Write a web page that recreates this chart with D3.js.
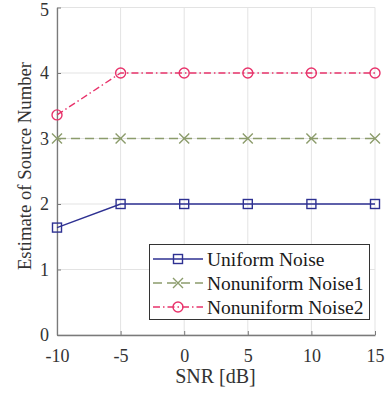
<!DOCTYPE html>
<html>
<head>
<meta charset="utf-8">
<script src="https://cdn.jsdelivr.net/npm/d3@7"></script>
<style>
  body { margin: 0; background: #fff; }
  svg { display: block; font-family: "Liberation Serif", "Times New Roman", serif; }
</style>
</head>
<body>
<svg id="chart" width="385" height="395"></svg>
<script>
// data
const snr = [-10, -5, 0, 5, 10, 15];
const uniformNoise = [1.64, 2, 2, 2, 2, 2];
const nonuniformNoise1 = [3, 3, 3, 3, 3, 3];
const nonuniformNoise2 = [3.36, 4, 4, 4, 4, 4];
const seriesNames = ["Uniform Noise", "Nonuniform Noise1", "Nonuniform Noise2"];
const xTicks = [-10, -5, 0, 5, 10, 15];
const yTicks = [0, 1, 2, 3, 4, 5];

const dims = { left: 57, right: 375, top: 7.5, bottom: 335 };
const serif = "Liberation Serif, Times New Roman, serif";

const svg = d3.select("#chart");

const xScale = d3.scaleLinear().domain([-10, 15]).range([dims.left, dims.right]);
const yScale = d3.scaleLinear().domain([0, 5]).range([dims.bottom, dims.top]);

// grid
svg.append("g").selectAll("line").data(xTicks).enter().append("line")
  .attr("x1", d => xScale(d)).attr("x2", d => xScale(d))
  .attr("y1", dims.top).attr("y2", dims.bottom)
  .attr("stroke", "#e3e3e3").attr("stroke-width", 1);
svg.append("g").selectAll("line").data(yTicks).enter().append("line")
  .attr("x1", dims.left).attr("x2", dims.right)
  .attr("y1", d => yScale(d)).attr("y2", d => yScale(d))
  .attr("stroke", "#e3e3e3").attr("stroke-width", 1);

// axes (matlab style, ticks inside)
const fmt = d => String(d);
const xAxis = d3.axisBottom(xScale).tickValues(xTicks).tickFormat(fmt)
  .tickSize(-4).tickPadding(14).tickSizeOuter(0);
const xg = svg.append("g").attr("transform", `translate(0,${dims.bottom})`).call(xAxis);
const yAxis = d3.axisLeft(yScale).tickValues(yTicks).tickFormat(fmt)
  .tickSize(-4).tickPadding(8).tickSizeOuter(0);
const yg = svg.append("g").attr("transform", `translate(${dims.left},0)`).call(yAxis);
[xg, yg].forEach(g => {
  g.attr("font-family", serif).attr("font-size", 18);
  g.select(".domain").attr("stroke", "#7a7a7a").attr("stroke-width", 1.3);
  g.selectAll(".tick line").attr("stroke", "#7a7a7a");
  g.selectAll("text").attr("fill", "#333");
});
// top label sits a bit lower so it isn't clipped
yg.selectAll(".tick text").filter(d => d === 5).attr("dy", "0.46em");

svg.append("text")
  .attr("x", 215.5).attr("y", 383)
  .attr("text-anchor", "middle").attr("font-size", "20px").attr("fill", "#333")
  .text("SNR [dB]");
svg.append("text")
  .attr("transform", `translate(31,166) rotate(-90)`)
  .attr("text-anchor", "middle").attr("font-size", "18.7px").attr("fill", "#333")
  .text("Estimate of Source Number");

const series = [
  { name: seriesNames[0], values: uniformNoise, color: "#2e3192", dash: null, marker: "square" },
  { name: seriesNames[1], values: nonuniformNoise1, color: "#8c9c6c", dash: "9,5", marker: "x" },
  { name: seriesNames[2], values: nonuniformNoise2, color: "#e8336b", dash: "7,3,1.5,3", marker: "circle" }
];

const line = d3.line().x(d => xScale(d[0])).y(d => yScale(d[1]));

function drawMarker(g, type, x, y, color) {
  if (type === "square") {
    g.append("rect").attr("x", x - 4.5).attr("y", y - 4.5).attr("width", 9).attr("height", 9)
      .attr("fill", "none").attr("stroke", color).attr("stroke-width", 1.4);
  } else if (type === "circle") {
    g.append("circle").attr("cx", x).attr("cy", y).attr("r", 5)
      .attr("fill", "none").attr("stroke", color).attr("stroke-width", 1.4);
  } else {
    g.append("path").attr("d", `M${x-5},${y-5}L${x+5},${y+5}M${x-5},${y+5}L${x+5},${y-5}`)
      .attr("stroke", color).attr("stroke-width", 1.4);
  }
}

series.forEach(s => {
  const pts = snr.map((x, i) => [x, s.values[i]]);
  svg.append("path").datum(pts).attr("d", line)
    .attr("fill", "none").attr("stroke", s.color).attr("stroke-width", 1.4)
    .attr("stroke-dasharray", s.dash);
  const mg = svg.append("g");
  pts.forEach(p => drawMarker(mg, s.marker, xScale(p[0]), yScale(p[1]), s.color));
});

// legend
const legend = svg.append("g");
legend.append("rect").attr("x", 149.5).attr("y", 244.5).attr("width", 220).attr("height", 75)
  .attr("fill", "#fff").attr("stroke", "#333").attr("stroke-width", 1);
series.forEach((s, i) => {
  const y = 259 + i * 24;
  legend.append("line").attr("x1", 153).attr("x2", 203).attr("y1", y).attr("y2", y)
    .attr("stroke", s.color).attr("stroke-width", 1.4).attr("stroke-dasharray", s.dash);
  drawMarker(legend, s.marker, 178, y, s.color);
  legend.append("text").attr("x", 207).attr("y", y + 6.5)
    .attr("font-size", "19.5px").attr("fill", "#1a1a1a").text(s.name);
});
</script>
</body>
</html>
